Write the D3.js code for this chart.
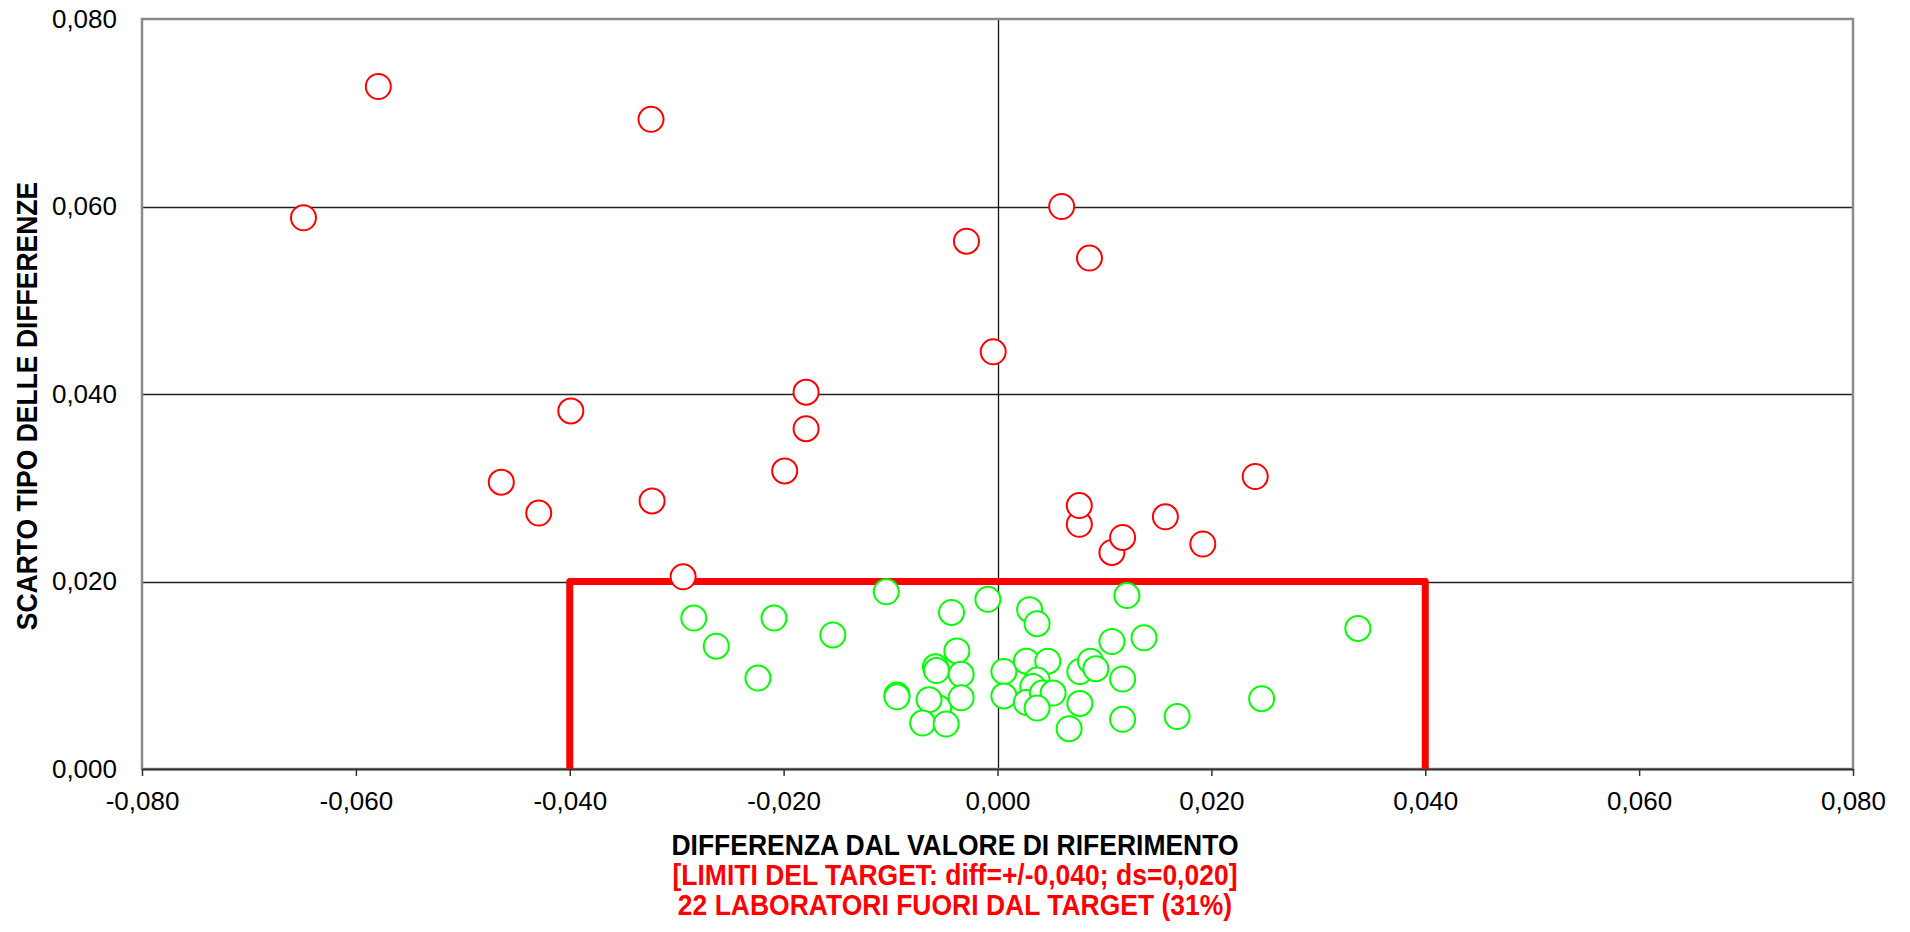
<!DOCTYPE html>
<html>
<head>
<meta charset="utf-8">
<script src="https://cdn.jsdelivr.net/npm/d3@7"></script>
<style>
  body { margin: 0; background: #fff; }
  svg { display: block; font-family: Arial, "Liberation Sans", sans-serif; }
</style>
</head>
<body>
<div id="chart"></div>
<script>
// labs outside the target (red)
var outsideDiff = [-0.0579, -0.0649, -0.0324, -0.0029, 0.0060, 0.0086, -0.0004, -0.0399,
  -0.0179, -0.0179, -0.0199, -0.0464, -0.0429, -0.0323, -0.0294, 0.0241,
  0.00765, 0.00765, 0.0107, 0.0117, 0.0157, 0.0192];
var outsideSd = [0.0728, 0.0588, 0.0693, 0.0563, 0.0600, 0.0545, 0.0445, 0.0382,
  0.0402, 0.0363, 0.0318, 0.0306, 0.0273, 0.0286, 0.0205, 0.0312,
  0.0261, 0.0281, 0.0231, 0.0247, 0.0269, 0.0240];

// labs inside the target (green)
var insideDiff = [-0.0284, -0.0263, -0.0209, -0.0224, -0.0154, -0.0104, -0.0094, -0.0094,
  -0.0009, -0.0043, 0.0030, 0.0037, -0.0038, -0.0058, -0.0057, -0.0034,
  0.0006, 0.0027, 0.0047, 0.0037, -0.0055, -0.0064, -0.0034, -0.0070,
  -0.0048, 0.0006, 0.0033, 0.0027, 0.0042, 0.0052, 0.0037, 0.0067,
  0.0077, 0.0077, 0.0087, 0.0092, 0.0107, 0.0117, 0.0117, 0.0121,
  0.0137, 0.0168, 0.0247, 0.0337];
var insideSd = [0.0161, 0.0131, 0.0161, 0.0097, 0.0143, 0.0189, 0.0079, 0.0077,
  0.0181, 0.0167, 0.0170, 0.0155, 0.0126, 0.0109, 0.0105, 0.0101,
  0.0104, 0.0115, 0.0115, 0.0095, 0.0065, 0.0074, 0.0076, 0.0049,
  0.0048, 0.0078, 0.0088, 0.0071, 0.0081, 0.0081, 0.0065, 0.0043,
  0.0070, 0.0104, 0.0115, 0.0107, 0.0136, 0.0096, 0.0053, 0.0185,
  0.0140, 0.0056, 0.0075, 0.0150];

// target box: diff = +/-0.040, ds = 0.020
var targetDiff = [-0.04, -0.04, 0.04, 0.04];
var targetSd = [0, 0.02, 0.02, 0];

var xTicks = [-0.08, -0.06, -0.04, -0.02, 0, 0.02, 0.04, 0.06, 0.08];
var yTicks = [0, 0.02, 0.04, 0.06, 0.08];
var yGrid = [0.02, 0.04, 0.06];

var titleLines = ["DIFFERENZA DAL VALORE DI RIFERIMENTO",
  "[LIMITI DEL TARGET: diff=+/-0,040; ds=0,020]",
  "22 LABORATORI FUORI DAL TARGET (31%)"];
var yTitle = "SCARTO TIPO DELLE DIFFERENZE";

var width = 1910, height = 932;
// plot area (don't use "top", it's window.top)
var plotLeft = 142, plotRight = 1853, plotTop = 19, plotBottom = 769;

var it = d3.formatLocale({decimal: ",", thousands: ".", grouping: [3], currency: ["", "€"], minus: "-"});
var fmt = it.format(".3f");

var x = d3.scaleLinear().domain([-0.08, 0.08]).range([plotLeft, plotRight]);
var y = d3.scaleLinear().domain([0, 0.08]).range([plotBottom, plotTop]);

var svg = d3.select("#chart").append("svg")
  .attr("width", width)
  .attr("height", height);

// horizontal grid
svg.append("g").selectAll("line")
  .data(yGrid)
  .enter().append("line")
  .attr("x1", plotLeft).attr("x2", plotRight)
  .attr("y1", function (d) { return Math.round(y(d)) + 0.5; })
  .attr("y2", function (d) { return Math.round(y(d)) + 0.5; })
  .style("stroke", "#222")
  .style("stroke-width", 1.3);

// zero line
svg.append("line")
  .attr("x1", Math.round(x(0)) + 0.5).attr("x2", Math.round(x(0)) + 0.5)
  .attr("y1", plotTop).attr("y2", plotBottom)
  .style("stroke", "#111")
  .style("stroke-width", 1.3);

// plot border
svg.append("rect")
  .attr("x", plotLeft).attr("y", plotTop)
  .attr("width", plotRight - plotLeft).attr("height", plotBottom - plotTop)
  .style("fill", "none")
  .style("stroke", "#8a8a8a")
  .style("stroke-width", 2.5);

// x axis
var xAxis = d3.axisBottom(x).tickValues(xTicks).tickSize(7).tickFormat(fmt);
var gx = svg.append("g")
  .attr("transform", "translate(0," + plotBottom + ")")
  .call(xAxis);
gx.select(".domain").attr("d", "M" + plotLeft + ",0.5H" + plotRight).style("stroke", "#333").style("stroke-width", 2);
gx.selectAll(".tick line").style("stroke", "#333").style("stroke-width", 1.5);
gx.selectAll(".tick text")
  .attr("y", 41).attr("dy", null)
  .style("font-size", "26px")
  .style("fill", "#000");

// y axis labels
var yAxis = d3.axisLeft(y).tickValues(yTicks).tickSize(0).tickPadding(25).tickFormat(fmt);
var gy = svg.append("g")
  .attr("transform", "translate(" + plotLeft + ",0)")
  .call(yAxis);
gy.select(".domain").remove();
gy.selectAll(".tick text")
  .style("font-size", "26px")
  .style("fill", "#000");

// target limits
var target = targetDiff.map(function (d, i) { return [d, targetSd[i]]; });
svg.append("path")
  .datum(target)
  .attr("d", d3.line().x(function (d) { return x(d[0]); }).y(function (d) { return y(d[1]); }))
  .style("fill", "none")
  .style("stroke", "#ff0000")
  .style("stroke-width", 7)
  .style("stroke-linejoin", "round");

// the points
var r = 12.5;
function points(xs, ys, color) {
  svg.append("g").selectAll("circle")
    .data(xs.map(function (d, i) { return [d, ys[i]]; }))
    .enter().append("circle")
    .attr("cx", function (d) { return x(d[0]); })
    .attr("cy", function (d) { return y(d[1]); })
    .attr("r", r)
    .style("fill", "#fff")
    .style("stroke", color)
    .style("stroke-width", 2);
}
points(insideDiff, insideSd, "#00ff00");
points(outsideDiff, outsideSd, "#ff0000");

// titles
var cx = 955;
var baselines = [855, 885, 915];
var colors = ["#000", "#ff0000", "#ff0000"];
svg.append("g").selectAll("text")
  .data(titleLines)
  .enter().append("text")
  .attr("transform", function (d, i) { return "translate(" + cx + "," + baselines[i] + ") scale(1,1.12)"; })
  .attr("text-anchor", "middle")
  .style("font-size", "26.5px")
  .style("font-weight", "bold")
  .style("fill", function (d, i) { return colors[i]; })
  .text(function (d) { return d; });

svg.append("text")
  .attr("transform", "translate(37,406) rotate(-90) scale(1,1.12)")
  .attr("text-anchor", "middle")
  .style("font-size", "26.5px")
  .style("font-weight", "bold")
  .style("fill", "#000")
  .text(yTitle);
</script>
</body>
</html>
